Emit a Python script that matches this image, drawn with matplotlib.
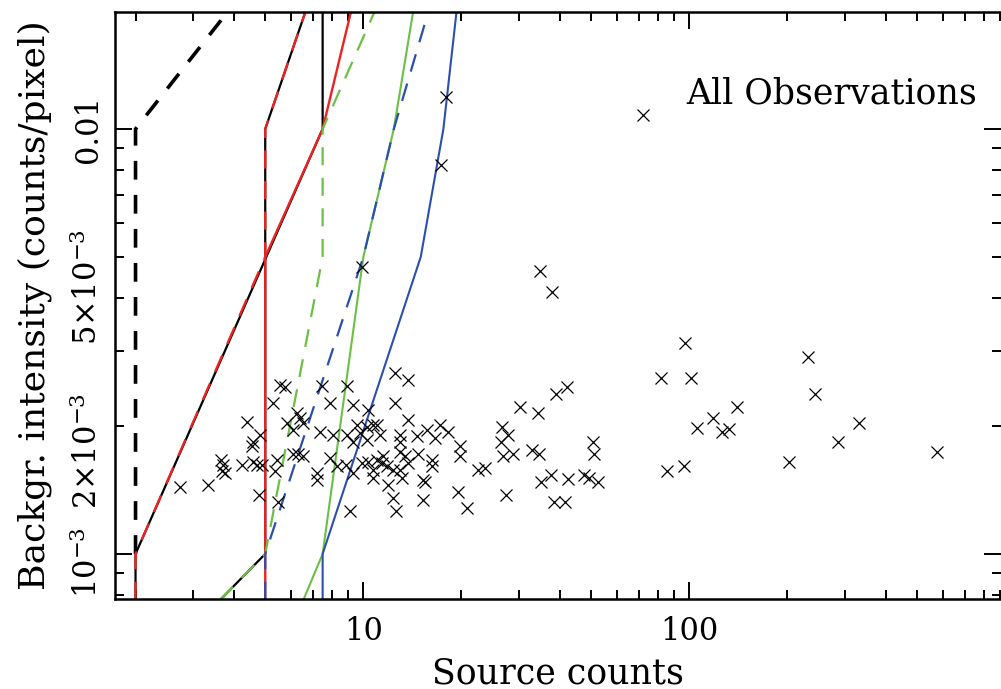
import matplotlib
matplotlib.use("Agg")
import matplotlib.pyplot as plt
from matplotlib.ticker import FixedLocator, FixedFormatter, NullFormatter

plt.rcParams['font.family'] = ['DejaVu Serif']
plt.rcParams['mathtext.fontset'] = 'dejavuserif'
plt.rcParams['lines.scale_dashes'] = False

# observations: source counts vs background intensity (counts/pixel)
src_counts = [
    2.74, 3.34, 3.66, 3.71, 3.69, 3.76, 4.25, 4.40, 4.59, 4.56,
    4.59, 4.72, 4.89, 4.82, 4.78, 5.28, 5.55, 5.75, 5.44, 5.36,
    5.48, 5.83, 6.09, 6.26, 6.39, 6.53, 6.09, 6.30, 6.53, 7.21,
    7.21, 7.47, 7.36, 7.90, 7.90, 8.07, 8.30, 8.85, 8.91, 8.91,
    9.10, 9.30, 9.30, 9.30, 9.57, 9.77, 9.91, 9.91, 10.26, 10.26,
    10.34, 10.34, 10.71, 10.71, 10.71, 11.02, 11.02, 11.25, 11.41, 11.49,
    11.82, 11.91, 12.34, 12.34, 12.51, 12.51, 12.60, 12.96, 12.96, 12.96,
    12.96, 13.14, 13.43, 13.71, 13.71, 13.71, 14.61, 14.72, 15.25, 15.47,
    15.25, 15.68, 16.24, 16.24, 16.59, 17.19, 17.31, 17.94, 18.19, 19.52,
    19.80, 19.80, 20.80, 22.48, 23.62, 26.64, 27.79, 26.45, 26.83, 28.79,
    27.40, 30.25, 32.93, 34.35, 34.59, 34.84, 35.09, 37.65, 37.92, 38.46,
    39.01, 41.56, 42.15, 42.45, 47.53, 49.24, 50.66, 51.02, 52.47, 72.11,
    81.88, 85.42, 96.3, 97.0, 101.2, 105.6, 118.2, 126.0, 132.4, 140.1,
    202.2, 231.3, 243.0, 285.8, 331.6, 575.2,
]
bkg_intensity = [
    1.434e-3, 1.453e-3, 1.664e-3, 1.620e-3, 1.564e-3, 1.551e-3, 1.620e-3, 2.040e-3, 1.830e-3, 1.795e-3,
    1.650e-3, 1.620e-3, 1.620e-3, 1.905e-3, 1.377e-3, 2.270e-3, 2.500e-3, 2.470e-3, 1.664e-3, 1.564e-3,
    1.322e-3, 2.030e-3, 1.960e-3, 2.150e-3, 2.090e-3, 2.030e-3, 1.720e-3, 1.720e-3, 1.700e-3, 1.551e-3,
    1.493e-3, 2.480e-3, 1.940e-3, 2.270e-3, 1.680e-3, 1.905e-3, 1.607e-3, 1.620e-3, 2.480e-3, 1.905e-3,
    1.262e-3, 2.240e-3, 1.830e-3, 1.551e-3, 2.010e-3, 1.930e-3, 4.740e-3, 1.637e-3, 1.990e-3, 1.854e-3,
    1.650e-3, 2.180e-3, 2.010e-3, 1.576e-3, 1.510e-3, 2.010e-3, 1.664e-3, 1.905e-3, 1.637e-3, 1.696e-3,
    1.607e-3, 1.453e-3, 1.576e-3, 1.354e-3, 2.670e-3, 2.270e-3, 1.260e-3, 1.905e-3, 1.830e-3, 1.738e-3,
    1.576e-3, 1.510e-3, 1.696e-3, 2.570e-3, 2.070e-3, 1.637e-3, 1.895e-3, 1.720e-3, 1.493e-3, 1.473e-3,
    1.340e-3, 1.960e-3, 1.664e-3, 1.607e-3, 1.875e-3, 2.010e-3, 8.230e-3, 1.189e-2, 1.940e-3, 1.399e-3,
    1.795e-3, 1.696e-3, 1.283e-3, 1.576e-3, 1.594e-3, 1.990e-3, 1.905e-3, 1.830e-3, 1.696e-3, 1.720e-3,
    1.377e-3, 2.220e-3, 1.757e-3, 2.150e-3, 1.720e-3, 4.630e-3, 1.473e-3, 1.534e-3, 4.130e-3, 1.322e-3,
    2.380e-3, 1.322e-3, 2.470e-3, 1.500e-3, 1.534e-3, 1.510e-3, 1.830e-3, 1.720e-3, 1.473e-3, 1.079e-2,
    2.600e-3, 1.564e-3, 1.607e-3, 3.140e-3, 2.600e-3, 1.980e-3, 2.090e-3, 1.940e-3, 1.970e-3, 2.220e-3,
    1.650e-3, 2.910e-3, 2.380e-3, 1.830e-3, 2.030e-3, 1.738e-3,
]

# detection limit curves (vertices)
blk_a_x = [2.0, 2.0, 7.5, 7.5]
blk_a_y = [7.8e-4, 1e-3, 1e-2, 1.9e-2]
blk_b_x = [3.64, 5.0, 5.0, 6.63]
blk_b_y = [7.8e-4, 1e-3, 1e-2, 1.88e-2]
blk_dash_x = [2.0, 2.0, 3.82]
blk_dash_y = [1e-3, 1e-2, 1.88e-2]
red_x = [5.0, 5.0, 7.5, 9.15]
red_y = [7.8e-4, 5e-3, 1e-2, 1.88e-2]
red_dash_x = [2.0, 2.0, 5.0, 5.0, 6.63]
red_dash_y = [7.8e-4, 1e-3, 5e-3, 1e-2, 1.88e-2]
grn_x = [6.55, 7.5, 10.0, 12.4, 14.2]
grn_y = [7.8e-4, 1e-3, 5e-3, 1e-2, 1.88e-2]
grn_dash_x = [3.64, 5.0, 7.5, 7.5, 10.8]
grn_dash_y = [7.8e-4, 1e-3, 5e-3, 1e-2, 1.88e-2]
blu_x = [7.5, 7.5, 15.0, 17.6, 19.3]
blu_y = [7.8e-4, 1e-3, 5e-3, 1e-2, 1.88e-2]
blu_dash_x = [5.0, 5.0, 10.0, 12.4, 15.8]
blu_dash_y = [7.8e-4, 1e-3, 5e-3, 1e-2, 1.88e-2]

x_major = [10, 100]
x_major_labels = ['10', '100']
y_major = [1e-3, 1e-2]
y_label_vals = [1e-3, 2e-3, 5e-3, 1e-2]
y_label_texts = [r'$10^{-3}$', r'$2{\times}10^{-3}$', r'$5{\times}10^{-3}$', '0.01']
y_label_shift = [6, 18, 22, 0]   # points, labels sit a little below their tick

RED = '#ee2222'
GREEN = '#6cbf45'
BLUE = '#2b4fae'
thin = (0, (13, 9))
thick = (0, (13.5, 11))

fig = plt.figure(figsize=(10.01, 6.89), dpi=100)
ax = fig.add_axes([115/1001, 1 - 599.3/689, 885.5/1001, 587/689])

# solid curves first, dashed ones drawn on top
ax.plot(blk_a_x, blk_a_y, color='k', lw=1.6)
ax.plot(blk_b_x, blk_b_y, color='k', lw=1.6)
ax.plot(red_x, red_y, color=RED, lw=1.7)
ax.plot(grn_x, grn_y, color=GREEN, lw=1.5)
ax.plot(blu_x, blu_y, color=BLUE, lw=1.5)
ax.plot(blk_dash_x, blk_dash_y, color='k', lw=2.6, ls=thick)
ax.plot(red_dash_x, red_dash_y, color=RED, lw=1.7, ls=thin)
ax.plot(grn_dash_x, grn_dash_y, color=GREEN, lw=1.6, ls=thin)
ax.plot(blu_dash_x, blu_dash_y, color=BLUE, lw=1.6, ls=thin)

ax.plot(src_counts, bkg_intensity, ls='none', marker='x', ms=9, mew=0.9, color='k')

ax.set_xscale('log')
ax.set_yscale('log')
ax.set_xlim(1.73, 901)
ax.set_ylim(7.82e-4, 1.882e-2)

ax.xaxis.set_major_locator(FixedLocator(x_major))
ax.xaxis.set_major_formatter(FixedFormatter(x_major_labels))
x_minor = [m * d for d in (1, 10, 100) for m in range(2, 10)]
ax.xaxis.set_minor_locator(FixedLocator(x_minor))
ax.xaxis.set_minor_formatter(NullFormatter())

ax.yaxis.set_major_locator(FixedLocator(y_major))
ax.yaxis.set_major_formatter(NullFormatter())
y_minor = [m * d for d in (1e-4, 1e-3) for m in range(2, 10)]
ax.yaxis.set_minor_locator(FixedLocator(y_minor))
ax.yaxis.set_minor_formatter(NullFormatter())

for s in ax.spines.values():
    s.set_linewidth(1.8)
ax.spines['right'].set_visible(False)   # falls on the image edge in the original
ax.tick_params(which='both', direction='in', top=True, right=True, width=1.4,
               labelsize=22)
ax.tick_params(which='major', length=12)
ax.tick_params(which='minor', length=6.5)
ax.tick_params(axis='x', which='both', pad=12)

# y tick labels, written along the axis
for val, txt, dy in zip(y_label_vals, y_label_texts, y_label_shift):
    ax.annotate(txt, xy=(0, val), xycoords=('axes fraction', 'data'),
                xytext=(-8, -dy), textcoords='offset points',
                rotation=90, ha='right', va='center', fontsize=22)

ax.set_xlabel('Source counts', fontsize=25)
ax.xaxis.set_label_coords(0.5, -0.097)
ax.set_ylabel('Backgr. intensity (counts/pixel)', fontsize=26, va='center')
ax.yaxis.set_label_coords((35 - 115) / 885.5, (599.3 - 305) / 587)

ax.text(0.973, 0.844, 'All Observations', transform=ax.transAxes,
        ha='right', va='baseline', fontsize=25)

fig.savefig('out.png', dpi=100)
